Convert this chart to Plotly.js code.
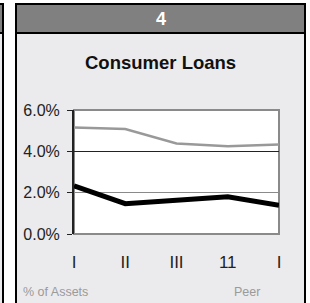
<!DOCTYPE html>
<html>
<head>
<meta charset="utf-8">
<script src="https://cdn.plot.ly/plotly-3.0.1.min.js"></script>
<style>
html,body{margin:0;padding:0;background:#fff;}
#chart{width:310px;height:303px;}
</style>
</head>
<body>
<div id="chart"></div>
<script>
// Data
const categories = ['I', 'II', 'III', '11', 'I'];
const peerValues = [5.15, 5.08, 4.38, 4.25, 4.33];
const bankValues = [2.33, 1.47, 1.63, 1.80, 1.39];
const yTickVals = [0, 2, 4, 6];
const yTickText = ['0.0%', '2.0%', '4.0%', '6.0%'];
const panelNumber = '4';
const chartTitle = 'Consumer Loans';
const footLeft = '% of Assets';
const footRight = 'Peer';

const xIdx = categories.map((_, i) => i);

// pixel -> paper helpers (plot area: x 74..279, y 110..234)
const L = 74, R = 279, T = 110, B = 234;
const px = p => (p - L) / (R - L);
const py = p => (B - p) / (B - T);

const font = '"Liberation Sans", Arial, Helvetica, sans-serif';

const traces = [
  {x: xIdx, y: peerValues, type: 'scatter', mode: 'lines',
   line: {color: '#999999', width: 2.5}, hoverinfo: 'skip', showlegend: false},
  {x: xIdx, y: bankValues, type: 'scatter', mode: 'lines',
   line: {color: '#000000', width: 5}, hoverinfo: 'skip', showlegend: false},
  {x: [xIdx[0]], y: [4], type: 'scatter', mode: 'none', yaxis: 'y2',
   hoverinfo: 'skip', showlegend: false}
];

const layout = {
  width: 310, height: 303,
  margin: {l: L, r: 310 - R, t: T, b: 303 - B, pad: 0},
  paper_bgcolor: '#ffffff',
  plot_bgcolor: 'rgba(0,0,0,0)',
  showlegend: false,
  xaxis: {
    range: [0, xIdx.length - 1],
    tickvals: xIdx, ticktext: categories,
    showgrid: false, zeroline: false, showline: false,
    ticks: 'outside', ticklen: 13, tickcolor: 'rgba(0,0,0,0)',
    tickfont: {family: font, size: 17, color: '#222'},
    fixedrange: true
  },
  yaxis: {
    range: [0, 6],
    tickvals: yTickVals, ticktext: yTickText,
    showgrid: true, gridcolor: '#8a8a8a', gridwidth: 1,
    zeroline: false,
    showline: true, linecolor: '#222', linewidth: 2,
    ticks: 'outside', ticklen: 5, tickcolor: '#222', tickwidth: 1,
    ticklabelstandoff: 4,
    tickfont: {family: font, size: 16, color: '#222'},
    fixedrange: true
  },
  yaxis2: {
    overlaying: 'y', range: [0, 6],
    tickvals: [4], showticklabels: false, ticks: '',
    showgrid: true, gridcolor: '#222', gridwidth: 1,
    zeroline: false, showline: false, fixedrange: true
  },
  shapes: [
    // left neighbour panel
    {type: 'rect', xref: 'paper', yref: 'paper', x0: px(-10), x1: px(3), y0: py(320), y1: py(4),
     fillcolor: '#ebebed', line: {color: '#000', width: 2}, layer: 'below'},
    {type: 'rect', xref: 'paper', yref: 'paper', x0: px(-10), x1: px(3), y0: py(33), y1: py(4),
     fillcolor: '#808080', line: {color: '#000', width: 2}, layer: 'below'},
    // main panel
    {type: 'rect', xref: 'paper', yref: 'paper', x0: px(16), x1: px(305), y0: py(320), y1: py(4),
     fillcolor: '#ebebed', line: {color: '#000', width: 2}, layer: 'below'},
    {type: 'rect', xref: 'paper', yref: 'paper', x0: px(16), x1: px(305), y0: py(33), y1: py(4),
     fillcolor: '#808080', line: {color: '#000', width: 2}, layer: 'below'},
    // plot area
    {type: 'rect', xref: 'paper', yref: 'paper', x0: 0, x1: 1, y0: 0, y1: 1,
     fillcolor: '#ffffff', line: {color: '#8a8a8a', width: 2}, layer: 'below'}
  ],
  annotations: [
    {text: '<b>' + panelNumber + '</b>', xref: 'paper', yref: 'paper', x: px(160.5), y: py(18.5),
     xanchor: 'center', yanchor: 'middle', showarrow: false,
     font: {family: font, size: 18, color: '#ffffff'}},
    {text: '<b>' + chartTitle + '</b>', xref: 'paper', yref: 'paper', x: px(160.5), y: py(62.5),
     xanchor: 'center', yanchor: 'middle', showarrow: false,
     font: {family: font, size: 18.5, color: '#111111'}},
    {text: footLeft, xref: 'paper', yref: 'paper', x: px(21), y: py(292),
     xanchor: 'left', yanchor: 'middle', showarrow: false,
     font: {family: font, size: 12.5, color: '#9a9a9a'}},
    {text: footRight, xref: 'paper', yref: 'paper', x: px(232), y: py(292),
     xanchor: 'left', yanchor: 'middle', showarrow: false,
     font: {family: font, size: 12.5, color: '#9a9a9a'}}
  ]
};

Plotly.newPlot('chart', traces, layout, {displayModeBar: false, staticPlot: true});
</script>
</body>
</html>
